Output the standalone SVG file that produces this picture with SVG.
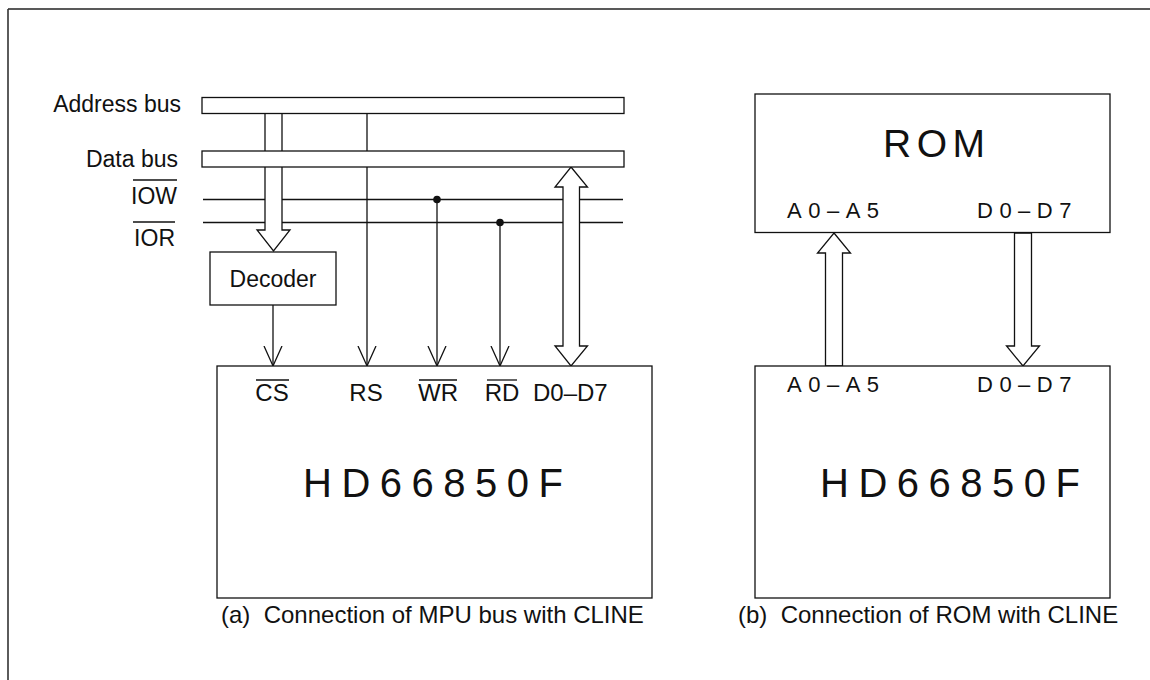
<svg xmlns="http://www.w3.org/2000/svg" width="1150" height="680" viewBox="0 0 1150 680">
<style>
.ln{stroke:#111;stroke-width:1.3;fill:none}
.box{stroke:#111;stroke-width:1.3;fill:#fff}
.fat{stroke:#111;stroke-width:1.3;fill:#fff;stroke-linejoin:miter}
.lbl{font-family:"Liberation Sans",Arial,sans-serif;font-size:23px;fill:#111}
.pin{font-family:"Liberation Sans",Arial,sans-serif;font-size:24px;fill:#111}
.pinw{font-family:"Liberation Sans",Arial,sans-serif;font-size:22px;fill:#111;letter-spacing:6.5px}
.big{font-family:"Liberation Sans",Arial,sans-serif;font-size:40px;fill:#111;letter-spacing:9.5px}
.cap{font-family:"Liberation Sans",Arial,sans-serif;font-size:24px;fill:#111;white-space:pre}
</style>
<defs>
<marker id="vh" markerWidth="20" markerHeight="24" refX="10" refY="20" orient="0" markerUnits="userSpaceOnUse">
<polyline points="1,0 10,20 19,0" fill="none" stroke="#111" stroke-width="1.3"/>
</marker>
</defs>
<g id="frame">
<line x1="8" y1="9" x2="1150" y2="9" stroke="#222" stroke-width="1.6"/>
<line x1="8" y1="9" x2="8" y2="680" stroke="#333" stroke-width="1.6"/>
</g>
<g id="labels">
<text class="lbl" x="181" y="112" text-anchor="end">Address bus</text>
<text class="lbl" x="178" y="167" text-anchor="end">Data bus</text>
<text class="lbl" x="177" y="204" text-anchor="end">IOW</text>
<line class="ln" x1="133" y1="180" x2="177" y2="180"/>
<text class="lbl" x="175" y="246" text-anchor="end">IOR</text>
<line class="ln" x1="133" y1="222" x2="175" y2="222"/>
</g>
<g id="connectors">
<line class="ln" x1="203" y1="199.5" x2="623" y2="199.5"/>
<line class="ln" x1="203" y1="222.5" x2="623" y2="222.5"/>
<line class="ln" x1="367" y1="113" x2="367" y2="366" marker-end="url(#vh)"/>
<line class="ln" x1="437" y1="199.5" x2="437" y2="366" marker-end="url(#vh)"/>
<circle cx="437" cy="199.5" r="3.8" fill="#111"/>
<line class="ln" x1="500" y1="222.5" x2="500" y2="366" marker-end="url(#vh)"/>
<circle cx="500" cy="222.5" r="3.8" fill="#111"/>
<line class="ln" x1="273" y1="305" x2="273" y2="366" marker-end="url(#vh)"/>
<polygon class="fat" points="265,113 265,230 257,230 273.5,251 290,230 282,230 282,113"/>
<polygon class="fat" points="571,167 587.5,187 579.5,187 579.5,346 587.5,346 571,366 555,346 563,346 563,187 555,187"/>
<polygon class="fat" points="834,233 850.5,253 842.5,253 842.5,366 825.5,366 825.5,253 817.5,253"/>
<polygon class="fat" points="1014.5,233 1014.5,346 1006.5,346 1023,366 1039.5,346 1031.5,346 1031.5,233"/>
</g>
<g id="address-bus">
<rect class="box" x="202" y="97.5" width="422" height="16"/>
</g>
<g id="data-bus">
<rect class="box" x="202" y="151" width="422" height="16"/>
</g>
<g id="decoder">
<rect class="box" x="210" y="252" width="126" height="53"/>
<text class="lbl" x="273" y="287" text-anchor="middle">Decoder</text>
</g>
<g id="hd-left">
<rect class="box" x="217" y="366" width="435" height="232"/>
<text class="pin" x="272" y="401" text-anchor="middle">CS</text>
<line class="ln" x1="256" y1="380" x2="289" y2="380"/>
<text class="pin" x="366" y="401" text-anchor="middle">RS</text>
<text class="pin" x="438" y="401" text-anchor="middle">WR</text>
<line class="ln" x1="419" y1="380" x2="457" y2="380"/>
<text class="pin" x="502" y="401" text-anchor="middle">RD</text>
<line class="ln" x1="487" y1="380" x2="517" y2="380"/>
<text class="pin" x="533" y="401">D0–D7</text>
<text class="big" x="303" y="497">HD66850F</text>
</g>
<g id="rom">
<rect class="box" x="755" y="94" width="355" height="138.5"/>
<text class="big" x="883" y="157" style="font-size:39px;letter-spacing:5.5px">ROM</text>
<text class="pinw" x="787" y="218">A0–A5</text>
<text class="pinw" x="977" y="218">D0–D7</text>
</g>
<g id="hd-right">
<rect class="box" x="755" y="366" width="355" height="232"/>
<text class="pinw" x="787" y="392">A0–A5</text>
<text class="pinw" x="977" y="392">D0–D7</text>
<text class="big" x="820" y="497">HD66850F</text>
</g>
<g id="captions">
<text class="cap" x="221" y="623">(a)  Connection of MPU bus with CLINE</text>
<text class="cap" x="738" y="623">(b)  Connection of ROM with CLINE</text>
</g>
</svg>
